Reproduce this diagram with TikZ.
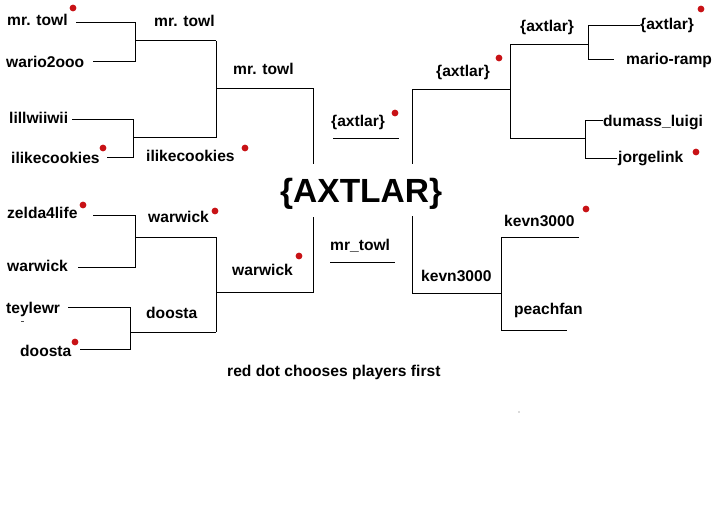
\documentclass[tikz,border=0pt]{standalone}
\usepackage{fontspec}
\setmainfont{Liberation Sans}
\definecolor{dotred}{RGB}{200,18,22}
\tikzset{
  lbl/.style={anchor=base west, inner sep=0pt, font=\fontsize{15.6}{18}\selectfont\bfseries},
  bigtitle/.style={anchor=base west, inner sep=0pt, font=\fontsize{33.5}{38}\selectfont\bfseries},
  bline/.style={line width=1pt, black},
  rdot/.style={fill=dotred, draw=none}
}
\begin{document}
\begin{tikzpicture}[x=1pt, y=-1pt]
\useasboundingbox[fill=white] (0,0) rectangle (720,532);

% ---------- text ----------
% left round 1
\node[lbl] (t1) at (7,26) {mr. towl};
\node[lbl] (t2) at (6,68) {wario2ooo};
\node[lbl] (t3) at (9,124) {lillwiiwii};
\node[lbl] (t4) at (11,164) {ilikecookies};
\node[lbl] (t5) at (7,218) {zelda4life};
\node[lbl] (t6) at (7,271) {warwick};
\node[lbl] (t7) at (6,313) {teylewr};
\node[lbl] (t8) at (20,356) {doosta};
% left round 2
\node[lbl] (s1) at (154,27) {mr. towl};
\node[lbl] (s2) at (146,161) {ilikecookies};
\node[lbl] (s3) at (148,222) {warwick};
\node[lbl] (s4) at (146,318) {doosta};
% left round 3
\node[lbl] (q1) at (233,75) {mr. towl};
\node[lbl] (q2) at (232,275) {warwick};
% center
\node[lbl] (c1) at (331,127) {\{axtlar\}};
\node[lbl] (c2) at (330,250) {mr\_towl};
\node[bigtitle] (title) at (280,202) {\{AXTLAR\}};
\node[lbl] (note) at (227,376) {red dot chooses players first};
% right round 3
\node[lbl] (q3) at (436,77) {\{axtlar\}};
\node[lbl] (q4) at (421,281) {kevn3000};
% right round 2
\node[lbl] (s5) at (520,32) {\{axtlar\}};
\node[lbl] (s6) at (504,226) {kevn3000};
% right round 1
\node[lbl] (r1) at (640,30) {\{axtlar\}};
\node[lbl] (r2) at (626,65) {mario-ramp};
\node[lbl] (r3) at (603,127) {dumass\_luigi};
\node[lbl] (r4) at (618,163) {jorgelink};
\node[lbl] (r5) at (514,314) {peachfan};

% ---------- bracket coordinates ----------
% left top
\coordinate (a1) at (76,23);   \coordinate (a1j) at (135,23);
\coordinate (a2) at (93,62);   \coordinate (a2j) at (135,62);
\coordinate (a12) at (135,41); \coordinate (a12e) at (216,41);
\coordinate (a3) at (72,120);  \coordinate (a3j) at (133,120);
\coordinate (a4) at (107,157); \coordinate (a4j) at (133,157);
\coordinate (a34) at (133,138); \coordinate (a34e) at (216,138);
\coordinate (b1) at (216,89);  \coordinate (b1e) at (313,89);
\coordinate (b1g) at (313,164);
% left bottom
\coordinate (a5) at (93,215);  \coordinate (a5j) at (135,215);
\coordinate (a6) at (78,267);  \coordinate (a6j) at (135,267);
\coordinate (a56) at (135,237); \coordinate (a56e) at (216,237);
\coordinate (a7) at (68,307);  \coordinate (a7j) at (130,307);
\coordinate (a8) at (80,349);  \coordinate (a8j) at (130,349);
\coordinate (a78) at (130,332); \coordinate (a78e) at (216,332);
\coordinate (b2) at (216,292); \coordinate (b2e) at (313,292);
\coordinate (b2g) at (313,217);
% center
\coordinate (m1) at (333,139); \coordinate (m1e) at (399,139);
\coordinate (m2) at (330,262); \coordinate (m2e) at (395,262);
% right top
\coordinate (d1) at (640,26);  \coordinate (d1j) at (588,26);
\coordinate (d2) at (614,60);  \coordinate (d2j) at (588,60);
\coordinate (d12) at (588,45); \coordinate (d12e) at (510,45);
\coordinate (d3) at (603,121); \coordinate (d3j) at (585,121);
\coordinate (d4) at (617,158); \coordinate (d4j) at (585,158);
\coordinate (d34) at (585,139); \coordinate (d34e) at (510,139);
\coordinate (e1) at (510,90);  \coordinate (e1e) at (412,90);
\coordinate (e1g) at (412,164);
% right bottom
\coordinate (f1) at (579,237); \coordinate (f1j) at (501,237);
\coordinate (f2) at (567,330); \coordinate (f2j) at (501,330);
\coordinate (f12) at (501,293); \coordinate (f12e) at (412,293);
\coordinate (f12g) at (412,216);

% ---------- bracket lines ----------
\draw[bline] (a1) -- (a1j) -- (a2j) -- (a2);
\draw[bline] (a12) -- (a12e);
\draw[bline] (a3) -- (a3j) -- (a4j) -- (a4);
\draw[bline] (a34) -- (a34e);
\draw[bline] (a12e) -- (a34e);
\draw[bline] (b1) -- (b1e) -- (b1g);

\draw[bline] (a5) -- (a5j) -- (a6j) -- (a6);
\draw[bline] (a56) -- (a56e);
\draw[bline] (a7) -- (a7j) -- (a8j) -- (a8);
\draw[bline] (a78) -- (a78e);
\draw[bline] (a56e) -- (a78e);
\draw[bline] (b2g) -- (b2e) -- (b2);

\draw[bline] (m1) -- (m1e);
\draw[bline] (m2) -- (m2e);

\draw[bline] (d1) -- (d1j) -- (d2j) -- (d2);
\draw[bline] (d12) -- (d12e);
\draw[bline] (d3) -- (d3j) -- (d4j) -- (d4);
\draw[bline] (d34) -- (d34e);
\draw[bline] (d12e) -- (d34e);
\draw[bline] (e1) -- (e1e) -- (e1g);

\draw[bline] (f1) -- (f1j) -- (f2j) -- (f2);
\draw[bline] (f12) -- (f12e) -- (f12g);

% ---------- red dots ----------
\foreach \p in {(73,8),(103,148),(245,148),(83,205),(215,211),(75,342),
                (299,256),(395,113),(499,58),(701,9),(696,152),(586,209)}
  \fill[rdot] \p circle (3.4);

% tiny stray marks
\fill[black!70] (21,320.5) rectangle (24,321.5);
\fill[black!60] (519,412) circle (0.7);
\end{tikzpicture}
\end{document}
